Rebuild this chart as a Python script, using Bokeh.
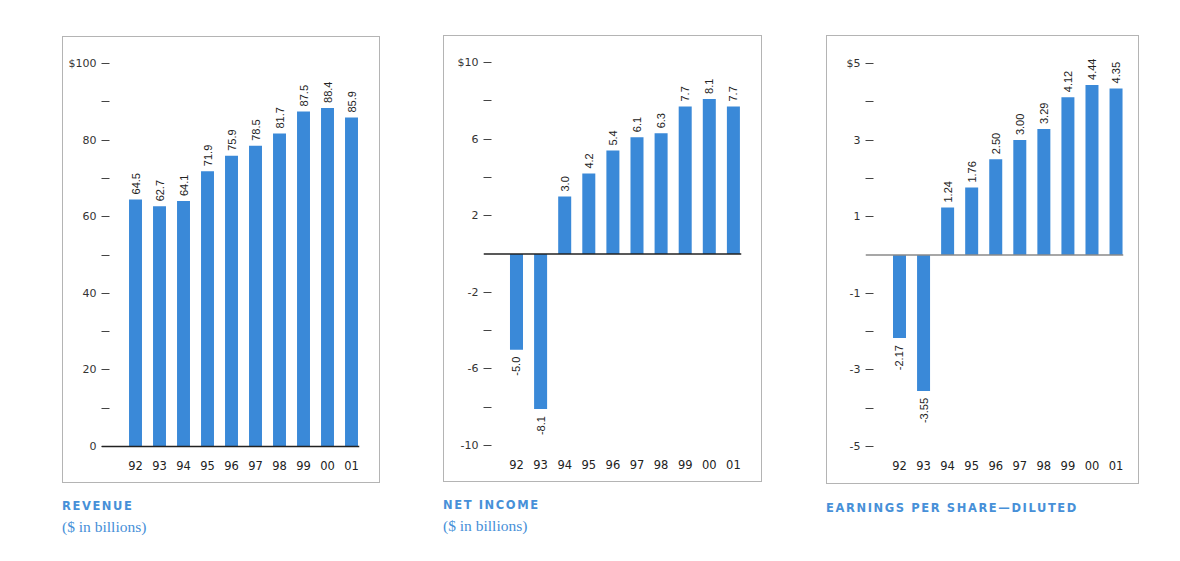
import math
from bokeh.plotting import figure
from bokeh.models import Range1d, FixedTicker, Span, Div
from bokeh.layouts import row, column
from bokeh.core.properties import value
from bokeh.embed import file_html
from bokeh.resources import INLINE

# ---------------- data ----------------
years = ["92", "93", "94", "95", "96", "97", "98", "99", "00", "01"]

revenue = [64.5, 62.7, 64.1, 71.9, 75.9, 78.5, 81.7, 87.5, 88.4, 85.9]
revenue_labels = ["64.5", "62.7", "64.1", "71.9", "75.9", "78.5", "81.7", "87.5", "88.4", "85.9"]
revenue_ticks = [0, 20, 40, 60, 80, 100]
revenue_tick_labels = ["0", "20", "40", "60", "80", "$100"]
revenue_minor = [10, 30, 50, 70, 90]

net_income = [-5.0, -8.1, 3.0, 4.2, 5.4, 6.1, 6.3, 7.7, 8.1, 7.7]
net_income_labels = ["-5.0", "-8.1", "3.0", "4.2", "5.4", "6.1", "6.3", "7.7", "8.1", "7.7"]
net_ticks = [-10, -6, -2, 2, 6, 10]
net_tick_labels = ["-10", "-6", "-2", "2", "6", "$10"]
net_minor = [-8, -4, 4, 8]

eps = [-2.17, -3.55, 1.24, 1.76, 2.50, 3.00, 3.29, 4.12, 4.44, 4.35]
eps_labels = ["-2.17", "-3.55", "1.24", "1.76", "2.50", "3.00", "3.29", "4.12", "4.44", "4.35"]
eps_ticks = [-5, -3, -1, 1, 3, 5]
eps_tick_labels = ["-5", "-3", "-1", "1", "3", "$5"]
eps_minor = [-4, -2, 2, 4]

titles = ["REVENUE", "NET INCOME", "EARNINGS PER SHARE\u2014DILUTED"]
subtitles = ["($ in billions)", "($ in billions)", ""]

BAR = "#3a89d8"
TITLE_BLUE = "#4790d8"


def make_panel(vals, labels, ticks, tick_labels, minor, x_rng, y_rng, w, h,
               borders, base_color, xstand):
    idx = list(range(len(years)))
    p = figure(width=w, height=h, output_backend="svg", toolbar_location=None,
               x_range=Range1d(*x_rng), y_range=Range1d(*y_rng),
               min_border_left=borders[0], min_border_right=borders[1],
               min_border_top=borders[2], min_border_bottom=borders[3])
    p.outline_line_color = None
    p.xgrid.visible = False
    p.ygrid.visible = False
    p.styles = {"border": "1px solid #b4b4b4"}

    p.vbar(x=idx, top=vals, bottom=0, width=0.54, fill_color=BAR, line_color=None)

    p.add_layout(Span(location=0, dimension="width", line_color=base_color, line_width=1.3))

    pos_x = [i for i, v in zip(idx, vals) if v >= 0]
    pos_y = [v for v in vals if v >= 0]
    pos_t = [t for t, v in zip(labels, vals) if v >= 0]
    neg_x = [i for i, v in zip(idx, vals) if v < 0]
    neg_y = [v for v in vals if v < 0]
    neg_t = [t for t, v in zip(labels, vals) if v < 0]
    common = dict(angle=math.pi / 2, text_font=value("Liberation Sans"),
                  text_font_size="11px", text_color="#222222", text_baseline="middle")
    p.text(x=pos_x, y=pos_y, text=pos_t, text_align="left", y_offset=-5, **common)
    p.text(x=neg_x, y=neg_y, text=neg_t, text_align="right", y_offset=7, **common)

    # y axis
    ya = p.yaxis[0]
    ya.ticker = FixedTicker(ticks=ticks, minor_ticks=minor)
    ya.major_label_overrides = {t: l for t, l in zip(ticks, tick_labels)}
    ya.axis_line_color = None
    ya.major_tick_in = 8
    ya.major_tick_out = 0
    ya.minor_tick_in = 8
    ya.minor_tick_out = 0
    ya.major_tick_line_color = "#444444"
    ya.minor_tick_line_color = "#444444"
    ya.major_label_standoff = 5
    ya.major_label_text_font = "DejaVu Sans"
    ya.major_label_text_font_size = "11px"
    ya.major_label_text_color = "#333333"

    # x axis
    xa = p.xaxis[0]
    xa.ticker = FixedTicker(ticks=idx)
    xa.major_label_overrides = {i: y for i, y in zip(idx, years)}
    xa.axis_line_color = None
    xa.major_tick_line_color = None
    xa.minor_tick_line_color = None
    xa.major_label_standoff = xstand
    xa.major_label_text_font = "DejaVu Sans"
    xa.major_label_text_font_size = "11.5px"
    xa.major_label_text_color = "#222222"
    return p


def make_title(title, sub, width):
    html = (f"<div style=\"font-family:'DejaVu Sans';font-weight:bold;font-size:11.5px;"
            f"letter-spacing:1.6px;color:{TITLE_BLUE};line-height:14px;white-space:nowrap\">{title}</div>")
    if sub:
        html += (f"<div style=\"font-family:'Liberation Serif';font-size:15.5px;color:{TITLE_BLUE};"
                 f"line-height:18px;margin-top:5px;white-space:nowrap\">{sub}</div>")
    return Div(text=html, width=width, margin=(16, 0, 0, 0))


p1 = make_panel(revenue, revenue_labels, revenue_ticks, revenue_tick_labels, revenue_minor,
                (-1.417, 9.333), (-1.305, 104.18), 318, 447, (38, 22, 10, 33), "#222222", 3)
p2 = make_panel(net_income, net_income_labels, net_ticks, net_tick_labels, net_minor,
                (-1.369, 9.336), (-10.261, 10.835), 319, 447, (39, 22, 10, 33), "#222222", 3)
p3 = make_panel(eps, eps_labels, eps_ticks, eps_tick_labels, eps_minor,
                (-1.413, 9.31), (-5.104, 5.444), 313, 449, (38, 17, 10, 35), "#8a8a8a", 4)

c1 = column(p1, make_title(titles[0], subtitles[0], 318), margin=(36, 0, 0, 62))
c2 = column(p2, make_title(titles[1], subtitles[1], 319), margin=(35, 0, 0, 63))
c3 = column(p3, make_title(titles[2], subtitles[2], 313), margin=(35, 0, 0, 64))
layout = row(c1, c2, c3)

open("out.html", "w").write(file_html(layout, INLINE))
